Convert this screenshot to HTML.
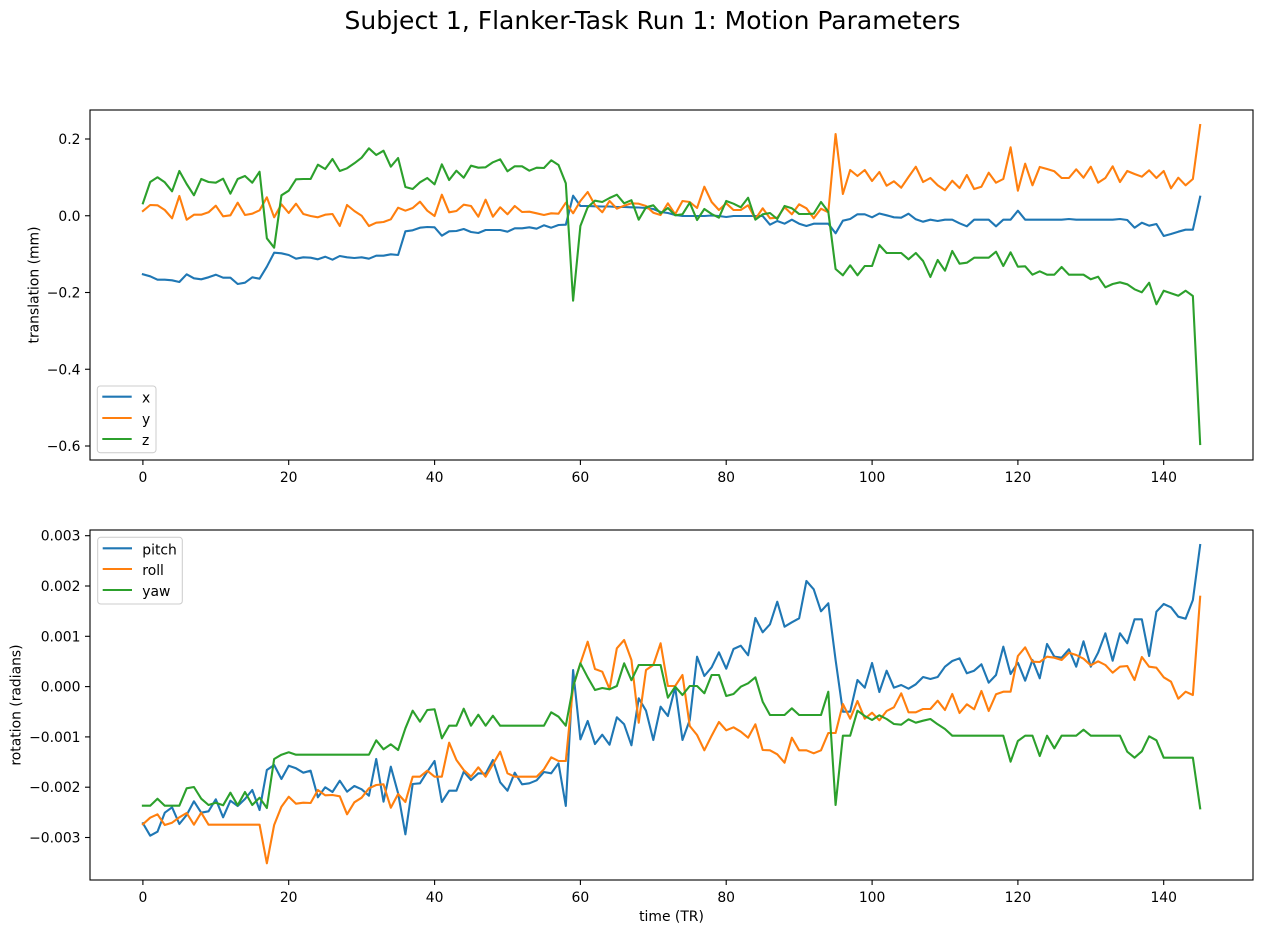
<!DOCTYPE html>
<html>
<head>
<meta charset="utf-8">
<style>
html,body{margin:0;padding:0;background:#fff;}
svg{display:block;}
text{font-family:"DejaVu Sans","Liberation Sans",sans-serif;fill:#000;}
.tk{font-size:13.9px;}
.ln{fill:none;stroke-width:2.1;stroke-linejoin:round;stroke-linecap:square;}
</style>
</head>
<body>
<svg width="1262" height="933" viewBox="0 0 1262 933" xmlns="http://www.w3.org/2000/svg">
<rect x="0" y="0" width="1262" height="933" fill="#fff"/>
<defs>
<clipPath id="c1"><rect x="90" y="110" width="1163" height="350"/></clipPath>
<clipPath id="c2"><rect x="90" y="530" width="1163" height="350"/></clipPath>
</defs>

<text x="652.5" y="29" text-anchor="middle" style="font-size:25px">Subject 1, Flanker-Task Run 1: Motion Parameters</text>

<!-- TOP AXES -->
<g clip-path="url(#c1)">
<g transform="translate(142.9,0) scale(7.2915,1)">
<polyline class="ln" vector-effect="non-scaling-stroke" stroke="#1f77b4" points="0,274.3 1,276.3 2,279.7 3,279.7 4,280.3 5,282 6,274.3 7,278.3 8,279.3 9,277.3 10,274.7 11,277.7 12,277.7 13,284 14,282.7 15,277.3 16,278.7 17,266.7 18,252.7 19,253.3 20,255 21,258.7 22,257.3 23,257.7 24,259.3 25,256.7 26,259.7 27,256 28,257.3 29,258 30,257.3 31,258.7 32,255.7 33,255.7 34,254.3 35,255 36,231.3 37,230.3 38,227.7 39,227 40,227.3 41,235.7 42,231.3 43,231 44,229 45,232 46,233 47,230 48,230 49,230 50,231.7 51,228.3 52,228.3 53,227.3 54,228.7 55,225.3 56,227.7 57,225 58,224.7 59,195.7 60,206 61,206 62,206.3 63,206.5 64,206.5 65,207 66,207 67,207.3 68,207.5 69,208 70,209 71,212 72,213 73,215 74,216 75,216 76,216 77,216 78,215.5 79,216 80,217 81,216 82,216 83,216 84,216 85,216 86,224.7 87,221 88,223.7 89,219.7 90,223.7 91,226 92,223.7 93,223.7 94,223.7 95,233.3 96,220.7 97,219 98,214.3 99,214.3 100,217.3 101,213.5 102,215.3 103,217.3 104,217.7 105,213.7 106,219.3 107,221.7 108,219.7 109,221 110,219.7 111,219.7 112,223.3 113,226.3 114,219.7 115,219.7 116,219.7 117,226.3 118,219.7 119,219.7 120,210.7 121,219.7 122,219.7 123,219.7 124,219.7 125,219.7 126,219.7 127,219 128,219.7 129,219.7 130,219.7 131,219.7 132,219.7 133,219.7 134,219 135,220 136,227.7 137,222.7 138,225.7 139,224 140,236 141,234 142,231.7 143,229.7 144,229.7 145,196.7"/>
<polyline class="ln" vector-effect="non-scaling-stroke" stroke="#ff7f0e" points="0,211 1,205 2,205.3 3,210 4,218.3 5,196 6,219.7 7,214.7 8,214.7 9,212.3 10,205.7 11,216.3 12,215.3 13,202.7 14,215 15,213.7 16,210.3 17,197.3 18,217.3 19,204.3 20,213 21,203.7 22,214 23,216 24,217.3 25,214.7 26,214 27,226 28,205 29,211 30,215.7 31,226 32,222.7 33,222 34,219.3 35,207.7 36,210.7 37,208 38,201.7 39,210.7 40,216 41,194.7 42,212.3 43,211 44,204.7 45,206 46,216.7 47,199.7 48,216.7 49,207.3 50,214.3 51,206 52,212 53,211.7 54,213.3 55,215 56,213.3 57,213.7 58,202.7 59,213.3 60,201 61,192 62,205 63,212.3 64,201 65,208.7 66,205.7 67,203.3 68,203.7 69,206 70,212.7 71,215 72,203.3 73,214.3 74,201 75,202 76,208 77,186.7 78,202 79,210 80,203.3 81,210 82,210 83,205.3 84,219 85,208.3 86,218.3 87,217.7 88,207.3 89,214.3 90,204.3 91,208.3 92,218.3 93,208.7 94,212.3 95,134 96,194 97,170 98,176 99,170 100,181 101,172 102,185.7 103,181.3 104,187.7 105,177 106,166.7 107,182 108,178 109,185.3 110,190.3 111,180.7 112,188 113,175 114,189 115,186.7 116,172.7 117,182.7 118,179 119,147.3 120,190.7 121,163.7 122,185.3 123,167 124,169 125,171.3 126,178 127,178 128,169.3 129,177.7 130,166.7 131,182.7 132,178 133,166.3 134,182 135,171 136,174 137,176.7 138,170.3 139,178 140,171 141,188.3 142,177.7 143,185.3 144,179 145,125"/>
<polyline class="ln" vector-effect="non-scaling-stroke" stroke="#2ca02c" points="0,203.3 1,182 2,177.3 3,182.3 4,191.3 5,171 6,184 7,195.3 8,179 9,182 10,182.7 11,178.7 12,193.7 13,179 14,176 15,182.7 16,171.7 17,238.3 18,247.7 19,195.3 20,190.7 21,179.3 22,179 23,179 24,164.7 25,169 26,159 27,171 28,168.3 29,163.3 30,157.7 31,148.3 32,155 33,150.7 34,166.7 35,158 36,187 37,189 38,182.3 39,178 40,184.3 41,164.3 42,180 43,170.7 44,177.7 45,165.7 46,167.7 47,167.3 48,162.3 49,159.3 50,171.3 51,166.3 52,166.3 53,170.7 54,167.7 55,168 56,160.3 57,165 58,183.3 59,300.7 60,226 61,207.3 62,200.7 63,202 64,198 65,194.7 66,203.3 67,200.2 68,219.7 69,207.3 70,205.3 71,213.3 72,208 73,215.3 74,214.3 75,202.7 76,220 77,209 78,214 79,217.7 80,201 81,203.7 82,207.3 83,197.7 84,219.7 85,214.3 86,213 87,219 88,206 89,208.3 90,214 91,214 92,213.7 93,202 94,211.7 95,269 96,275.3 97,265.3 98,275.3 99,266 100,266 101,245 102,253 103,253 104,253 105,259.3 106,253 107,261 108,277 109,260 110,270.7 111,251 112,263.7 113,262.7 114,257.7 115,257.7 116,257.7 117,251.7 118,266 119,252.3 120,266.7 121,266.3 122,274.7 123,271.3 124,274.7 125,274.7 126,267 127,274.7 128,274.7 129,274.7 130,279.3 131,276.7 132,287.3 133,284 134,282.3 135,284.3 136,289.3 137,292.3 138,282.7 139,304.3 140,290.7 141,293.3 142,295.7 143,290.7 144,296 145,444"/>
</g>
</g>
<rect x="90" y="110" width="1163" height="350" fill="none" stroke="#000" stroke-width="1.1"/>
<!-- top x ticks -->
<g stroke="#000" stroke-width="1.1">
<line x1="142.9" y1="460" x2="142.9" y2="465"/>
<line x1="288.7" y1="460" x2="288.7" y2="465"/>
<line x1="434.6" y1="460" x2="434.6" y2="465"/>
<line x1="580.4" y1="460" x2="580.4" y2="465"/>
<line x1="726.2" y1="460" x2="726.2" y2="465"/>
<line x1="872.1" y1="460" x2="872.1" y2="465"/>
<line x1="1017.9" y1="460" x2="1017.9" y2="465"/>
<line x1="1163.7" y1="460" x2="1163.7" y2="465"/>
<line x1="85" y1="139" x2="90" y2="139"/>
<line x1="85" y1="215.75" x2="90" y2="215.75"/>
<line x1="85" y1="292.5" x2="90" y2="292.5"/>
<line x1="85" y1="369.25" x2="90" y2="369.25"/>
<line x1="85" y1="446" x2="90" y2="446"/>
</g>
<g class="tk" text-anchor="middle">
<text x="142.9" y="482">0</text>
<text x="288.7" y="482">20</text>
<text x="434.6" y="482">40</text>
<text x="580.4" y="482">60</text>
<text x="726.2" y="482">80</text>
<text x="872.1" y="482">100</text>
<text x="1017.9" y="482">120</text>
<text x="1163.7" y="482">140</text>
</g>
<g class="tk" text-anchor="end">
<text x="80.5" y="144">0.2</text>
<text x="80.5" y="220.75">0.0</text>
<text x="80.5" y="297.5">−0.2</text>
<text x="80.5" y="374.25">−0.4</text>
<text x="80.5" y="451">−0.6</text>
</g>
<text class="tk" transform="translate(38.5,285) rotate(-90)" text-anchor="middle">translation (mm)</text>
<!-- top legend -->
<rect x="97.3" y="386" width="58.7" height="66.7" rx="3" ry="3" fill="#fff" fill-opacity="0.8" stroke="#cccccc" stroke-width="1"/>
<line x1="102.3" y1="396.7" x2="131.7" y2="396.7" stroke="#1f77b4" stroke-width="2.1"/>
<line x1="102.3" y1="418" x2="131.7" y2="418" stroke="#ff7f0e" stroke-width="2.1"/>
<line x1="102.3" y1="439" x2="131.7" y2="439" stroke="#2ca02c" stroke-width="2.1"/>
<text class="tk" x="142" y="402.7">x</text>
<text class="tk" x="142" y="424">y</text>
<text class="tk" x="142" y="445">z</text>

<!-- BOTTOM AXES -->
<g clip-path="url(#c2)">
<g transform="translate(142.9,0) scale(7.2915,1)">
<polyline class="ln" vector-effect="non-scaling-stroke" stroke="#1f77b4" points="0,823.3 1,835.7 2,831.7 3,812.7 4,807.3 5,824 6,815 7,801.3 8,812.7 9,811.3 10,799.3 11,817.3 12,800.7 13,806 14,799 15,790 16,810 17,770 18,765 19,779 20,765.7 21,768.3 22,772.7 23,770.7 24,797.3 25,787.3 26,792 27,780.7 28,791.7 29,786 30,789.3 31,795.7 32,759 33,801.7 34,766.7 35,793.3 36,834.3 37,784 38,783.3 39,771.7 40,761 41,802 42,790.7 43,790.7 44,771.7 45,780 46,773.3 47,773.7 48,760 49,782.3 50,790.7 51,772.7 52,784.3 53,783.3 54,780.3 55,772 56,773.3 57,763.3 58,806 59,670 60,739.3 61,721 62,744 63,734.7 64,744.7 65,717.3 66,724.3 67,745.3 68,698.3 69,710.7 70,740 71,706.7 72,716 73,687.3 74,740 75,720 76,656.7 77,676 78,667.3 79,652.3 80,668.7 81,649 82,645.7 83,655.3 84,618 85,632.3 86,624.3 87,601.7 88,626.7 89,622.3 90,618.3 91,581 92,589.3 93,611.3 94,603.3 95,660 96,711.7 97,711.7 98,680 99,687.7 100,663 101,692 102,670.7 103,687.7 104,685 105,688.7 106,684.3 107,677 108,679 109,677 110,666.7 111,661 112,658.3 113,673.3 114,670.7 115,664.3 116,682.7 117,675 118,646.7 119,674 120,662.7 121,680.7 122,660 123,678.3 124,644 125,656.7 126,657.7 127,649.3 128,666.7 129,641.3 130,666.7 131,652.7 132,633.3 133,660.7 134,633.3 135,643.3 136,619.3 137,619.3 138,656 139,611.7 140,604 141,607.3 142,616.7 143,618.7 144,600 145,545"/>
<polyline class="ln" vector-effect="non-scaling-stroke" stroke="#ff7f0e" points="0,824.3 1,817.7 2,814.3 3,825 4,822.7 5,817.3 6,813 7,824.7 8,812.7 9,824.7 10,824.7 11,824.7 12,824.7 13,824.7 14,824.7 15,824.7 16,824.7 17,863.3 18,825 19,806.7 20,796.7 21,803.7 22,802.7 23,803 24,790 25,795.3 26,795 27,796.3 28,814.3 29,802.3 30,797.7 31,788.3 32,785 33,784.3 34,807.7 35,794 36,802 37,776.7 38,776.7 39,770.7 40,776.7 41,776.7 42,742.7 43,760 44,770 45,776.7 46,767.3 47,776.7 48,764.3 49,751.7 50,773.3 51,776.7 52,776.7 53,776.7 54,776.7 55,769.3 56,757.3 57,761 58,761 59,686.7 60,663.3 61,641.7 62,669 63,671.7 64,689 65,648.3 66,640 67,660 68,722.7 69,670 70,665 71,643.3 72,686 73,686 74,675 75,726 76,735 77,750.3 78,735.7 79,722 80,730.3 81,727.3 82,731.7 83,737.7 84,724.3 85,750 86,750.3 87,754.3 88,762.7 89,737.7 90,750.3 91,750.3 92,753.3 93,750.3 94,733 95,733 96,704 97,718.7 98,701 99,718.7 100,712.7 101,720.3 102,711 103,707.3 104,693.3 105,712.3 106,712.3 107,709 108,709 109,700.7 110,710 111,694 112,713 113,704.3 114,709.3 115,691 116,711 117,694.3 118,691.7 119,691.7 120,656 121,647.3 122,661.7 123,662 124,656.7 125,657.7 126,660 127,652.7 128,655 129,658.7 130,665.3 131,661.3 132,665 133,672.7 134,666.7 135,666 136,680 137,657 138,666.7 139,667.7 140,677.3 141,681.7 142,698.7 143,691.7 144,695 145,596.7"/>
<polyline class="ln" vector-effect="non-scaling-stroke" stroke="#2ca02c" points="0,805.7 1,805.7 2,798.7 3,805.7 4,805.7 5,805.7 6,788.3 7,787 8,798.7 9,805 10,802.7 11,805.3 12,792.7 13,805.3 14,792 15,805 16,797.7 17,808 18,759 19,754.7 20,752.3 21,754.7 22,754.7 23,754.7 24,754.7 25,754.7 26,754.7 27,754.7 28,754.7 29,754.7 30,754.7 31,754.7 32,740.3 33,749.3 34,744.3 35,750 36,728.3 37,710.7 38,721.7 39,710 40,709.3 41,738.3 42,725.7 43,725.7 44,708.7 45,725.7 46,714.7 47,725.7 48,715.7 49,725.7 50,725.7 51,725.7 52,725.7 53,725.7 54,725.7 55,725.7 56,712.3 57,716.7 58,725.7 59,686.7 60,663.3 61,677.3 62,690 63,688 64,689.3 65,686 66,663.3 67,680.2 68,665 69,665 70,665 71,665 72,697.7 73,686.7 74,695 75,686 76,686 77,693.3 78,675 79,675 80,696 81,694 82,686.7 83,683.3 84,677.3 85,701.7 86,715 87,715 88,715 89,708.3 90,715 91,715 92,715 93,715 94,691.7 95,805 96,735.7 97,735.7 98,710.7 99,716 100,720 101,715.3 102,719 103,724 104,724.7 105,719.3 106,722.7 107,720.7 108,719 109,724.3 110,729 111,735.7 112,735.7 113,735.7 114,735.7 115,735.7 116,735.7 117,735.7 118,735.7 119,761.7 120,741 121,735.7 122,735.7 123,756 124,735.7 125,748.3 126,735.7 127,735.7 128,735.7 129,729.7 130,735.7 131,735.7 132,735.7 133,735.7 134,735.7 135,751.7 136,757.7 137,751.3 138,736.3 139,740.3 140,757.7 141,757.7 142,757.7 143,757.7 144,757.7 145,808.3"/>
</g>
</g>
<rect x="90" y="530" width="1163" height="350" fill="none" stroke="#000" stroke-width="1.1"/>
<g stroke="#000" stroke-width="1.1">
<line x1="142.9" y1="880" x2="142.9" y2="885"/>
<line x1="288.7" y1="880" x2="288.7" y2="885"/>
<line x1="434.6" y1="880" x2="434.6" y2="885"/>
<line x1="580.4" y1="880" x2="580.4" y2="885"/>
<line x1="726.2" y1="880" x2="726.2" y2="885"/>
<line x1="872.1" y1="880" x2="872.1" y2="885"/>
<line x1="1017.9" y1="880" x2="1017.9" y2="885"/>
<line x1="1163.7" y1="880" x2="1163.7" y2="885"/>
<line x1="85" y1="535.7" x2="90" y2="535.7"/>
<line x1="85" y1="586" x2="90" y2="586"/>
<line x1="85" y1="636.3" x2="90" y2="636.3"/>
<line x1="85" y1="686.6" x2="90" y2="686.6"/>
<line x1="85" y1="736.9" x2="90" y2="736.9"/>
<line x1="85" y1="787.2" x2="90" y2="787.2"/>
<line x1="85" y1="837.5" x2="90" y2="837.5"/>
</g>
<g class="tk" text-anchor="middle">
<text x="142.9" y="902">0</text>
<text x="288.7" y="902">20</text>
<text x="434.6" y="902">40</text>
<text x="580.4" y="902">60</text>
<text x="726.2" y="902">80</text>
<text x="872.1" y="902">100</text>
<text x="1017.9" y="902">120</text>
<text x="1163.7" y="902">140</text>
</g>
<g class="tk" text-anchor="end">
<text x="80.5" y="540.7">0.003</text>
<text x="80.5" y="591">0.002</text>
<text x="80.5" y="641.3">0.001</text>
<text x="80.5" y="691.6">0.000</text>
<text x="80.5" y="741.9">−0.001</text>
<text x="80.5" y="792.2">−0.002</text>
<text x="80.5" y="842.5">−0.003</text>
</g>
<text class="tk" transform="translate(20.5,705) rotate(-90)" text-anchor="middle">rotation (radians)</text>
<text class="tk" x="671.5" y="921" text-anchor="middle">time (TR)</text>
<!-- bottom legend -->
<rect x="97.7" y="537.3" width="84.6" height="66.7" rx="3" ry="3" fill="#fff" fill-opacity="0.8" stroke="#cccccc" stroke-width="1"/>
<line x1="102.7" y1="548.3" x2="132" y2="548.3" stroke="#1f77b4" stroke-width="2.1"/>
<line x1="102.7" y1="569" x2="132" y2="569" stroke="#ff7f0e" stroke-width="2.1"/>
<line x1="102.7" y1="590" x2="132" y2="590" stroke="#2ca02c" stroke-width="2.1"/>
<text class="tk" x="142.3" y="554.3">pitch</text>
<text class="tk" x="142.3" y="575">roll</text>
<text class="tk" x="142.3" y="596">yaw</text>
</svg>
</body>
</html>
